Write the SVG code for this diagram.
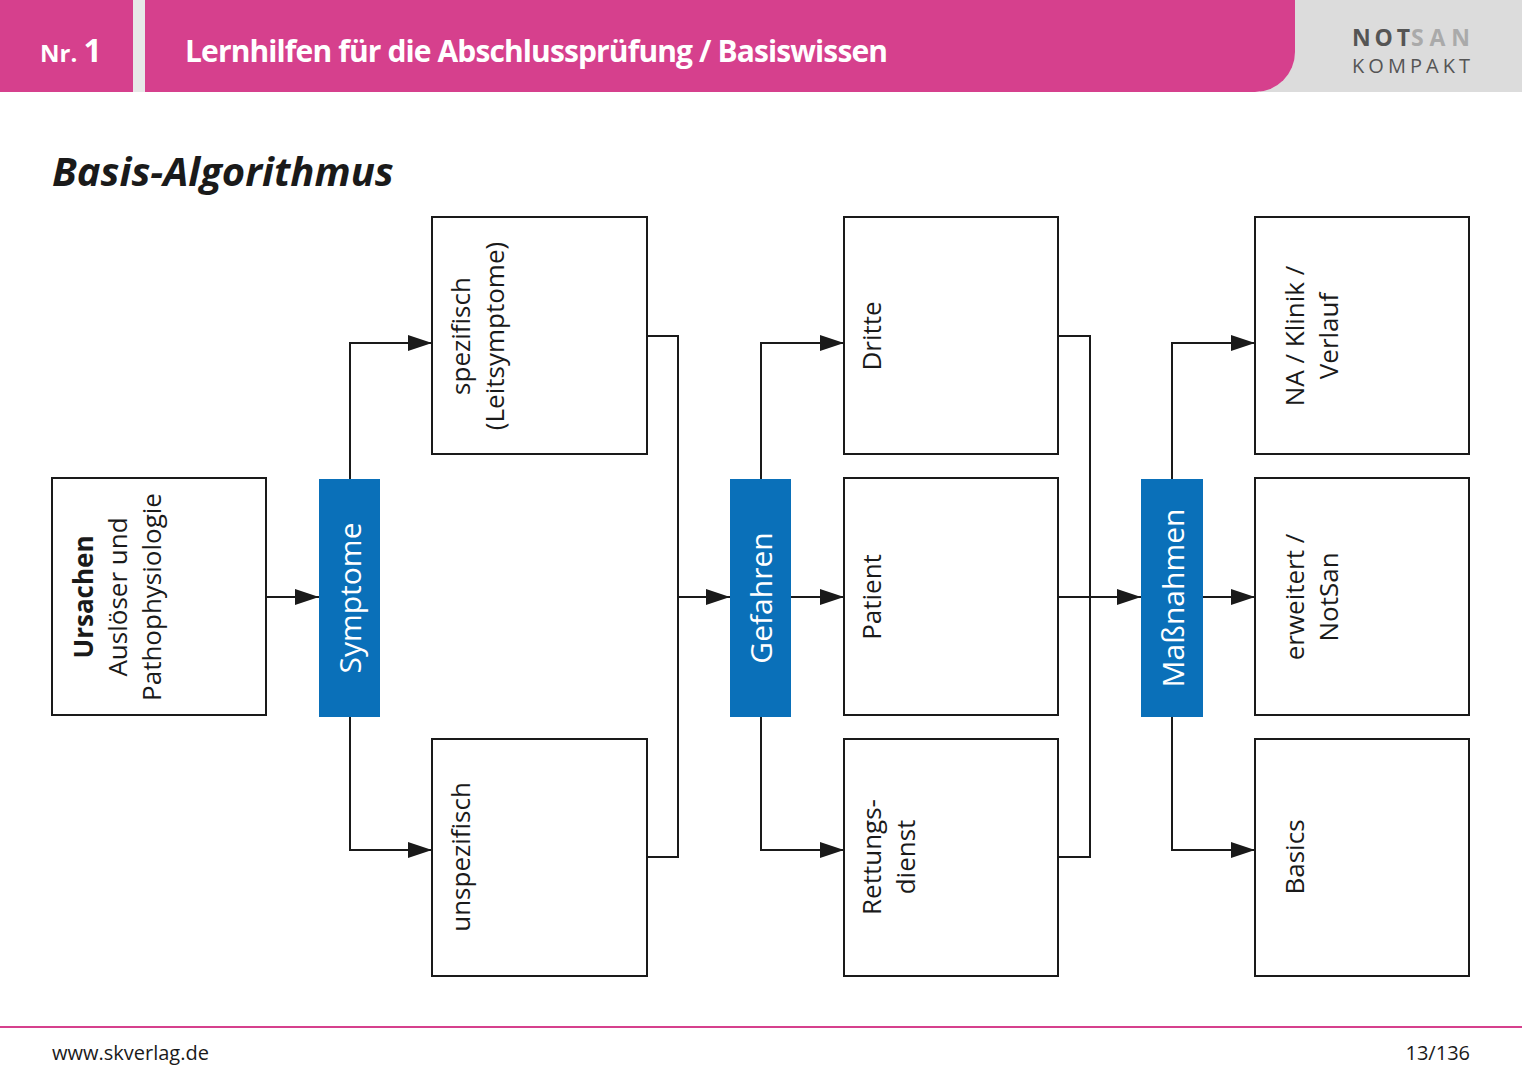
<svg xmlns="http://www.w3.org/2000/svg" width="1522" height="1080" viewBox="0 0 1522 1080">
<style>
text{font-family:"Open Sans","Noto Sans","DejaVu Sans",sans-serif}
.box{fill:#fff;stroke:#1a1a1a;stroke-width:2}
.blue{fill:#0a70b9}
.t{font-size:26px;fill:#1a1a1a;text-anchor:middle}
.bt{font-size:30px;fill:#fff;text-anchor:middle}
.c{fill:none;stroke:#1a1a1a;stroke-width:2}
</style>
<defs>
<marker id="b" markerWidth="24" markerHeight="16" refX="24" refY="8" orient="auto" markerUnits="userSpaceOnUse"><path d="M0,0L24,8L0,16z" fill="#1a1a1a"/></marker></defs>
<rect width="1522" height="1080" fill="#fff"/>
<g id="header">
<rect x="1260" y="0" width="262" height="92" fill="#dcdcdc"/>
<path d="M0,0H1295V52A40,40 0 0 1 1255,92H0z" fill="#d6408d"/>
<rect x="133" y="0" width="12" height="92" fill="#e8e8e8"/>
<text x="40" y="62" font-size="24" font-weight="bold" fill="#fff">Nr. <tspan font-size="32">1</tspan></text>
<text x="185" y="62" font-size="30" font-weight="bold" fill="#fff" textLength="703">Lernhilfen für die Abschlussprüfung / Basiswissen</text>
<text x="1352" y="46" font-size="23" font-weight="bold" fill="#555" textLength="58">NOT</text>
<text x="1411" y="46" font-size="23" font-weight="bold" fill="#aaa" textLength="59">SAN</text>
<text x="1352" y="73" font-size="20" fill="#555" textLength="118">KOMPAKT</text>
</g>
<text x="52" y="186" font-size="40" font-weight="bold" font-style="italic" fill="#1a1a1a">Basis-Algorithmus</text>
<g id="connectors">
<path class="c" d="M266,597H319" marker-end="url(#b)"/>
<path class="c" d="M350,479V343H432" marker-end="url(#b)"/>
<path class="c" d="M350,717V850H432" marker-end="url(#b)"/>
<path class="c" d="M647,336H678V857H647"/>
<path class="c" d="M678,597H730" marker-end="url(#b)"/>
<path class="c" d="M761,479V343H844" marker-end="url(#b)"/>
<path class="c" d="M791,597H844" marker-end="url(#b)"/>
<path class="c" d="M761,717V850H844" marker-end="url(#b)"/>
<path class="c" d="M1058,336H1090V857H1058"/>
<path class="c" d="M1058,597H1141" marker-end="url(#b)"/>
<path class="c" d="M1172,479V343H1255" marker-end="url(#b)"/>
<path class="c" d="M1203,597H1255" marker-end="url(#b)"/>
<path class="c" d="M1172,717V850H1255" marker-end="url(#b)"/>
</g>
<g id="ursachen"><rect class="box" x="52" y="478" width="214" height="237"/>
<text class="t" transform="translate(93,597) rotate(-90)" font-weight="bold" font-size="29">Ursachen</text>
<text class="t" transform="translate(127,597) rotate(-90)">Auslöser und</text>
<text class="t" transform="translate(161,597) rotate(-90)">Pathophysiologie</text></g>
<g id="symptome"><rect class="blue" x="319" y="479" width="61" height="238"/><text class="bt" transform="translate(361,598) rotate(-90)">Symptome</text></g>
<g id="spezifisch"><rect class="box" x="432" y="217" width="215" height="237"/>
<text class="t" transform="translate(470,336) rotate(-90)">spezifisch</text>
<text class="t" transform="translate(504,336) rotate(-90)">(Leitsymptome)</text></g>
<g id="unspezifisch"><rect class="box" x="432" y="739" width="215" height="237"/>
<text class="t" transform="translate(470,857) rotate(-90)">unspezifisch</text></g>
<g id="gefahren"><rect class="blue" x="730" y="479" width="61" height="238"/><text class="bt" transform="translate(772,598) rotate(-90)">Gefahren</text></g>
<g id="dritte"><rect class="box" x="844" y="217" width="214" height="237"/>
<text class="t" transform="translate(881,336) rotate(-90)">Dritte</text></g>
<g id="patient"><rect class="box" x="844" y="478" width="214" height="237"/>
<text class="t" transform="translate(881,597) rotate(-90)">Patient</text></g>
<g id="rettungsdienst"><rect class="box" x="844" y="739" width="214" height="237"/>
<text class="t" transform="translate(881,857) rotate(-90)">Rettungs-</text>
<text class="t" transform="translate(915,857) rotate(-90)">dienst</text></g>
<g id="massnahmen"><rect class="blue" x="1141" y="479" width="62" height="238"/><text class="bt" transform="translate(1184,598) rotate(-90)">Maßnahmen</text></g>
<g id="na"><rect class="box" x="1255" y="217" width="214" height="237"/>
<text class="t" transform="translate(1304,336) rotate(-90)">NA / Klinik /</text>
<text class="t" transform="translate(1338,336) rotate(-90)">Verlauf</text></g>
<g id="erweitert"><rect class="box" x="1255" y="478" width="214" height="237"/>
<text class="t" transform="translate(1304,597) rotate(-90)">erweitert /</text>
<text class="t" transform="translate(1338,597) rotate(-90)">NotSan</text></g>
<g id="basics"><rect class="box" x="1255" y="739" width="214" height="237"/>
<text class="t" transform="translate(1304,857) rotate(-90)">Basics</text></g>
<g id="footer">
<rect x="0" y="1026" width="1522" height="2" fill="#d6408d"/>
<text x="52" y="1060" font-size="20" fill="#1a1a1a">www.skverlag.de</text>
<text x="1470" y="1060" font-size="20" fill="#1a1a1a" text-anchor="end">13/136</text>
</g>
</svg>
